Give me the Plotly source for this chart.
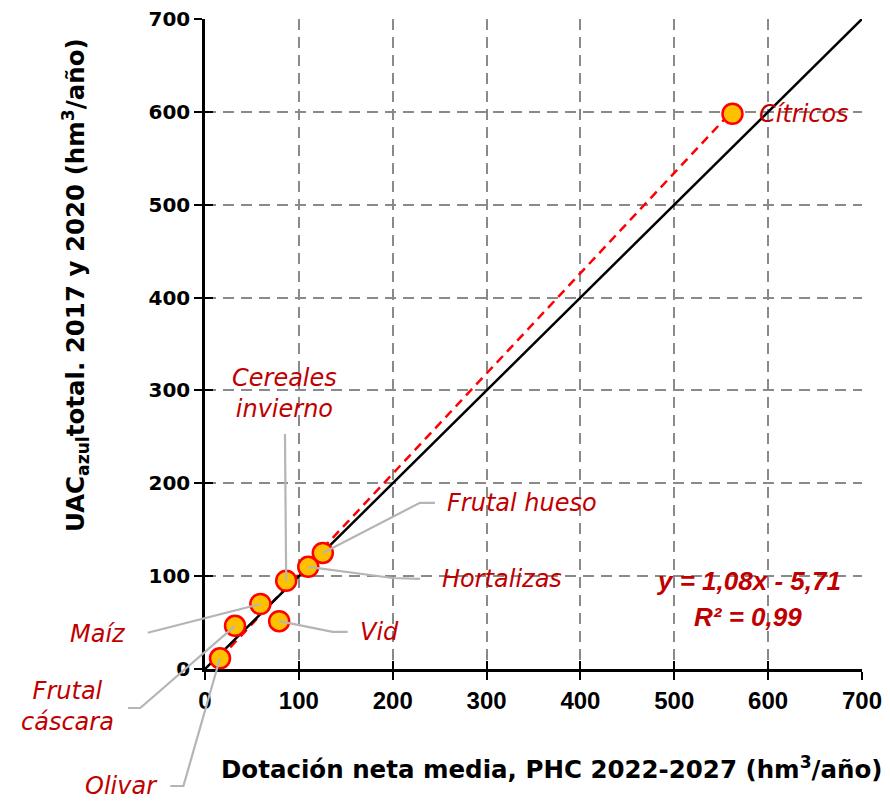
import plotly.graph_objects as go

# ---- data ----
crops = ["Olivar", "Frutal cáscara", "Maíz", "Vid", "Cereales invierno", "Hortalizas", "Frutal hueso", "Cítricos"]
dotacion = [16, 32, 59, 79, 86.5, 110, 125.5, 562]        # x: Dotación neta media (hm3/año)
uac = [11.5, 46.5, 70, 51.5, 95, 110, 125, 598]            # y: UAC azul total (hm3/año)
slope, intercept = 1.08, -5.71
ticks = [0, 100, 200, 300, 400, 500, 600, 700]

RED = "#C00000"
GRID = "#8a8a8a"
LEADER = "#b5b5b5"
RMAX = 700.0
W, H = 890, 802
ML, MR, MT, MB = 205, 28, 19, 133
PW, PH = W - ML - MR, H - MT - MB


def px2paper(px, py):
    return (px - ML) / PW, (H - MB - py) / PH


# label layout (data units): text position, anchor, leader elbow points
label_layout = {
    "Olivar":            dict(tx=-48, ty=-126, xa="right", txt="Olivar", elbow=[(-23, -126), (-37, -126)]),
    "Frutal cáscara":    dict(tx=-146, ty=-40, xa="center", txt="Frutal<br>cáscara", elbow=[(-69, -42), (-82, -42)]),
    "Maíz":              dict(tx=-82, ty=38, xa="right", txt="Maíz", elbow=[(-61, 39)]),
    "Vid":               dict(tx=163, ty=40, xa="left", txt="Vid", elbow=[(136, 40), (152, 40)]),
    "Cereales invierno": dict(tx=85, ty=297, xa="center", txt="Cereales<br>invierno", elbow=[(85.2, 253)]),
    "Hortalizas":        dict(tx=250, ty=97, xa="left", txt="Hortalizas", elbow=[(200, 98), (229, 97)]),
    "Frutal hueso":      dict(tx=256, ty=179, xa="left", txt="Frutal hueso", elbow=[(229, 179), (245, 179)]),
    "Cítricos":          dict(tx=588, ty=598, xa="left", txt="Cítricos", elbow=None),
}

fig = go.Figure()

# regression line (dashed red)
xr = [min(dotacion), max(dotacion)]
fig.add_trace(go.Scatter(x=xr, y=[slope * v + intercept for v in xr], mode="lines",
                         line=dict(color="#FF0000", width=2.5, dash="9px,6px"),
                         hoverinfo="skip", showlegend=False))
# 1:1 line
fig.add_trace(go.Scatter(x=[0, 700], y=[0, 700], mode="lines",
                         line=dict(color="black", width=2.5), hoverinfo="skip", showlegend=False))
# points
fig.add_trace(go.Scatter(x=dotacion, y=uac, mode="markers", text=crops,
                         marker=dict(size=20, color="#FFC000", line=dict(color="#FF0000", width=2.5)),
                         cliponaxis=False, showlegend=False))
# invisible trace for inner-tick overlay axes
fig.add_trace(go.Scatter(x=[0], y=[0], xaxis="x2", yaxis="y2", mode="markers",
                         marker=dict(opacity=0), hoverinfo="skip", showlegend=False))

shapes = []
annotations = []
lab_font = dict(family="DejaVu Sans", size=24, color=RED)
for name, xv, yv in zip(crops, dotacion, uac):
    L = label_layout[name]
    if L["elbow"]:
        pts = [(xv, yv)] + L["elbow"]
        path = "M " + " L ".join(f"{px / RMAX},{py / RMAX}" for px, py in pts)
        shapes.append(dict(type="path", path=path, xref="paper", yref="paper",
                           line=dict(color=LEADER, width=2.2), layer="above"))
    annotations.append(dict(x=L["tx"] / RMAX, y=L["ty"] / RMAX, xref="paper", yref="paper",
                            text=f"<i>{L['txt']}</i>",
                            showarrow=False, xanchor=L["xa"], yanchor="middle", align="center",
                            font=lab_font))

eq_font = dict(family="Liberation Sans", size=26, color=RED, weight="bold", style="italic")
x, y = px2paper(748, 581)
annotations.append(dict(x=x, y=y, xref="paper", yref="paper", showarrow=False,
                        text="y = 1,08x - 5,71", xanchor="center", yanchor="middle", font=eq_font))
x, y = px2paper(748, 617)
annotations.append(dict(x=x, y=y, xref="paper", yref="paper", showarrow=False,
                        text="R² = 0,99", xanchor="center", yanchor="middle", font=eq_font))
# axis titles
title_font = dict(family="DejaVu Sans", size=24.5, color="black", weight="bold")
x, y = px2paper(552, 768)
annotations.append(dict(x=x, y=y, xref="paper", yref="paper", showarrow=False,
                        text="Dotación neta media, PHC 2022-2027 (hm<sup>3</sup>/año)",
                        xanchor="center", yanchor="middle", font=title_font))
x, y = px2paper(76, 285)
annotations.append(dict(x=x, y=y, xref="paper", yref="paper", showarrow=False,
                        text="UAC<sub>azul</sub>total. 2017 y 2020 (hm<sup>3</sup>/año)",
                        textangle=-90, xanchor="center", yanchor="middle", font=title_font))

axis_common = dict(range=[0, 700], tickvals=ticks, showgrid=True, gridcolor=GRID, gridwidth=2,
                   griddash="11px,7px", zeroline=False, showline=True, linecolor="black", linewidth=2.5,
                   ticks="outside", ticklen=8, tickwidth=2, tickcolor="black", fixedrange=True)

fig.update_layout(
    width=W, height=H,
    margin=dict(l=ML, r=MR, t=MT, b=MB, autoexpand=False),
    paper_bgcolor="white", plot_bgcolor="white",
    showlegend=False,
    xaxis=dict(**axis_common, tickfont=dict(family="Liberation Sans", size=24, color="black", weight="bold")),
    yaxis=dict(**axis_common, tickfont=dict(family="DejaVu Sans", size=20, color="black", weight="bold")),
    xaxis2=dict(range=[0, 700], tickvals=ticks, overlaying="x", side="bottom", showgrid=False,
                zeroline=False, showline=False, showticklabels=False, ticks="inside", ticklen=8,
                tickwidth=2, tickcolor="black", fixedrange=True),
    yaxis2=dict(range=[0, 700], tickvals=ticks, overlaying="y", side="left", showgrid=False,
                zeroline=False, showline=False, showticklabels=False, ticks="inside", ticklen=8,
                tickwidth=2, tickcolor="black", fixedrange=True),
    shapes=shapes,
    annotations=annotations,
)

fig.write_html("out.html", config={"displayModeBar": False},
               post_script="document.body.style.margin='0';document.body.style.overflow='hidden';")
